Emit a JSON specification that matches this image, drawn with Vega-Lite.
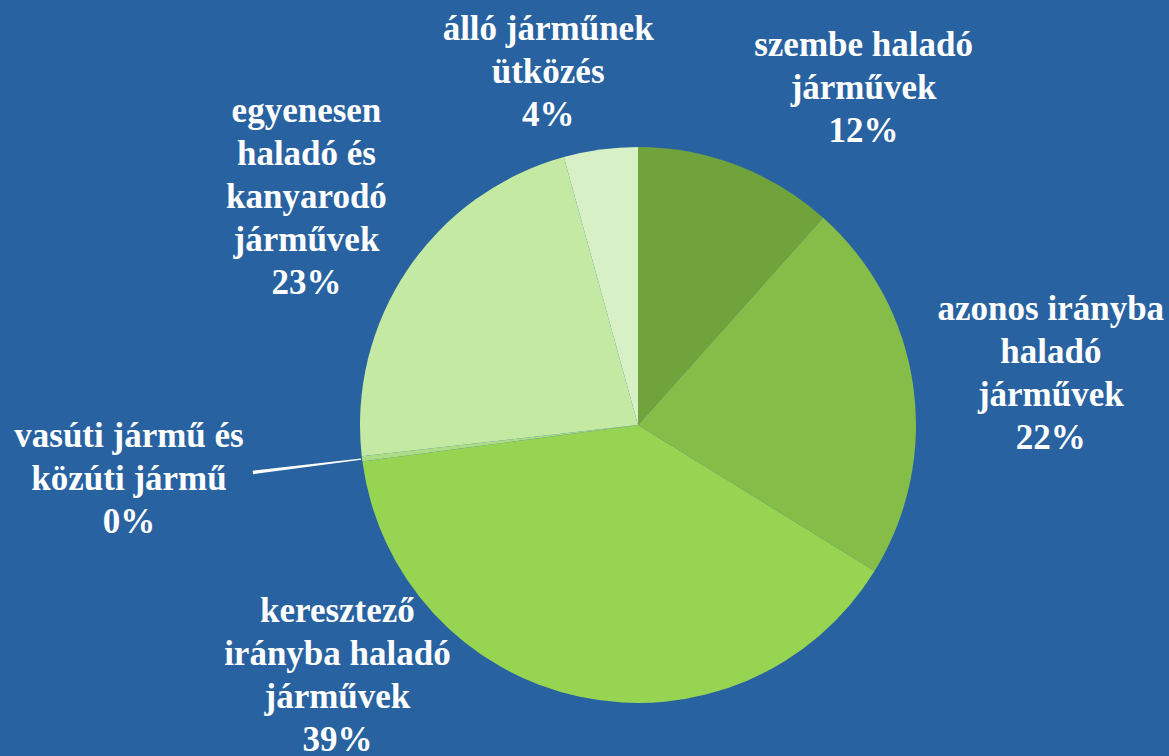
{
  "$schema": "https://vega.github.io/schema/vega-lite/v6.json",
  "width": 1062,
  "height": 662,
  "autosize": {"type": "none"},
  "padding": {"left": 107, "top": 94, "right": 0, "bottom": 0},
  "background": "#2862a0",
  "config": {"view": {"stroke": null}},
  "data": {"values": [
    {"idx": 1, "name": "szembe haladó járművek", "value": 11.6, "label": "szembe haladó\njárművek\n12%"},
    {"idx": 2, "name": "azonos irányba haladó járművek", "value": 22.2, "label": "azonos irányba\nhaladó\njárművek\n22%"},
    {"idx": 3, "name": "keresztező irányba haladó járművek", "value": 39.1, "label": "keresztező\nirányba haladó\njárművek\n39%"},
    {"idx": 4, "name": "vasúti jármű és közúti jármű", "value": 0.3, "label": "vasúti jármű és\nközúti jármű\n0%"},
    {"idx": 5, "name": "egyenesen haladó és kanyarodó járművek", "value": 22.5, "label": "egyenesen\nhaladó és\nkanyarodó\njárművek\n23%"},
    {"idx": 6, "name": "álló járműnek ütközés", "value": 4.3, "label": "álló járműnek\nütközés\n4%"}
  ]},
  "encoding": {
    "theta": {"field": "value", "type": "quantitative", "stack": true},
    "order": {"field": "idx", "type": "quantitative"}
  },
  "layer": [
    {
      "mark": {"type": "arc", "outerRadius": 278},
      "encoding": {
        "color": {
          "field": "name", "type": "nominal", "legend": null,
          "scale": {
            "domain": ["szembe haladó járművek", "azonos irányba haladó járművek", "keresztező irányba haladó járművek", "vasúti jármű és közúti jármű", "egyenesen haladó és kanyarodó járművek", "álló járműnek ütközés"],
            "range": ["#70a33c", "#86bd48", "#96d452", "#acdc84", "#c3e9a2", "#d7f0c5"]
          }
        }
      }
    },
    {
      "mark": {"type": "arc", "outerRadius": 388, "innerRadius": 279, "padAngle": 0.008},
      "encoding": {
        "fill": {"condition": {"test": "datum.idx === 4", "value": "#ffffff"}, "value": "transparent"}
      }
    },
    {
      "mark": {"type": "text", "radius": 400, "dx": 83, "dy": -6, "align": "center", "baseline": "middle", "lineBreak": "\n", "lineHeight": 43, "font": "Liberation Serif", "fontWeight": "bold", "fontSize": 35, "fill": "#ffffff"},
      "encoding": {"text": {"condition": {"test": "datum.idx === 1", "field": "label"}, "value": ""}}
    },
    {
      "mark": {"type": "text", "radius": 400, "dx": 17, "dy": -58, "align": "center", "baseline": "middle", "lineBreak": "\n", "lineHeight": 43, "font": "Liberation Serif", "fontWeight": "bold", "fontSize": 35, "fill": "#ffffff"},
      "encoding": {"text": {"condition": {"test": "datum.idx === 2", "field": "label"}, "value": ""}}
    },
    {
      "mark": {"type": "text", "radius": 400, "dx": -217, "dy": -205, "align": "center", "baseline": "middle", "lineBreak": "\n", "lineHeight": 43, "font": "Liberation Serif", "fontWeight": "bold", "fontSize": 35, "fill": "#ffffff"},
      "encoding": {"text": {"condition": {"test": "datum.idx === 3", "field": "label"}, "value": ""}}
    },
    {
      "mark": {"type": "text", "radius": 400, "dx": -112, "dy": -38, "align": "center", "baseline": "middle", "lineBreak": "\n", "lineHeight": 43, "font": "Liberation Serif", "fontWeight": "bold", "fontSize": 35, "fill": "#ffffff"},
      "encoding": {"text": {"condition": {"test": "datum.idx === 4", "field": "label"}, "value": ""}}
    },
    {
      "mark": {"type": "text", "radius": 400, "dx": 0, "dy": -90, "align": "center", "baseline": "middle", "lineBreak": "\n", "lineHeight": 43, "font": "Liberation Serif", "fontWeight": "bold", "fontSize": 35, "fill": "#ffffff"},
      "encoding": {"text": {"condition": {"test": "datum.idx === 5", "field": "label"}, "value": ""}}
    },
    {
      "mark": {"type": "text", "radius": 400, "dx": -36, "dy": 0, "align": "center", "baseline": "middle", "lineBreak": "\n", "lineHeight": 43, "font": "Liberation Serif", "fontWeight": "bold", "fontSize": 35, "fill": "#ffffff"},
      "encoding": {"text": {"condition": {"test": "datum.idx === 6", "field": "label"}, "value": ""}}
    }
  ]
}
